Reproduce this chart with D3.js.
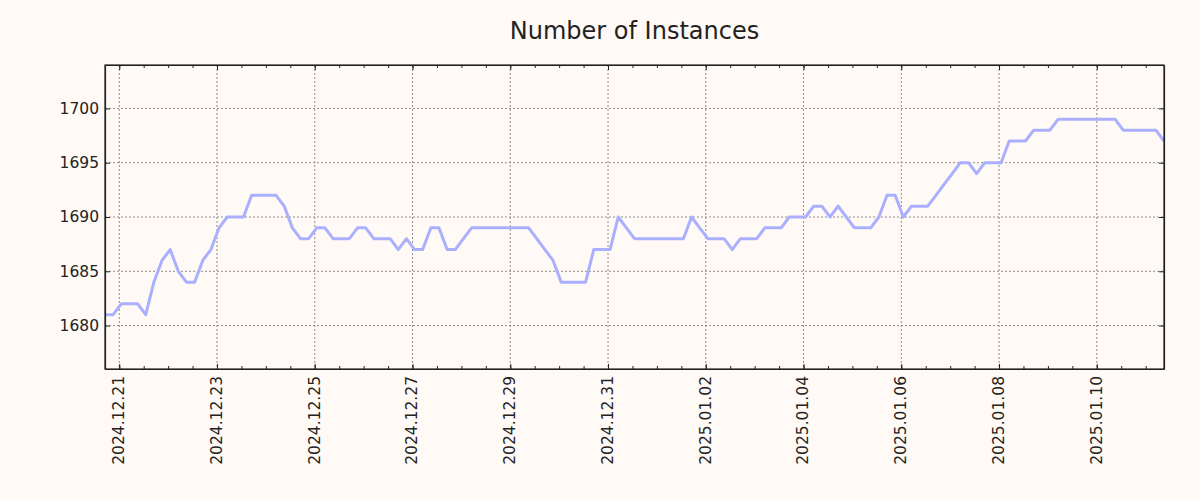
<!DOCTYPE html>
<html>
<head>
<meta charset="utf-8">
<script src="https://cdn.jsdelivr.net/npm/d3@7"></script>
<style>
  body { margin: 0; background: #fffaf5; }
  text { font-family: "DejaVu Sans", sans-serif; fill: #222; }
</style>
</head>
<body>
<script>
// Samples taken every 4 hours, starting at this time
var startTime = "2024-12-20T17:00";
var stepHours = 4;

// Instance counts
var counts = [
    1681, 1681, 1682, 1682, 1682, 1681, 1684, 1686, 1687, 1685,
    1684, 1684, 1686, 1687, 1689, 1690, 1690, 1690, 1692, 1692,
    1692, 1692, 1691, 1689, 1688, 1688, 1689, 1689, 1688, 1688,
    1688, 1689, 1689, 1688, 1688, 1688, 1687, 1688, 1687, 1687,
    1689, 1689, 1687, 1687, 1688, 1689, 1689, 1689, 1689, 1689,
    1689, 1689, 1689, 1688, 1687, 1686, 1684, 1684, 1684, 1684,
    1687, 1687, 1687, 1690, 1689, 1688, 1688, 1688, 1688, 1688,
    1688, 1688, 1690, 1689, 1688, 1688, 1688, 1687, 1688, 1688,
    1688, 1689, 1689, 1689, 1690, 1690, 1690, 1691, 1691, 1690,
    1691, 1690, 1689, 1689, 1689, 1690, 1692, 1692, 1690, 1691,
    1691, 1691, 1692, 1693, 1694, 1695, 1695, 1694, 1695, 1695,
    1695, 1697, 1697, 1697, 1698, 1698, 1698, 1699, 1699, 1699,
    1699, 1699, 1699, 1699, 1699, 1698, 1698, 1698, 1698, 1698,
    1697
];

var yTicks = [1680, 1685, 1690, 1695, 1700];
var yRange = [1676, 1704];
var title = "Number of Instances";

var margin = { top: 65, right: 36, bottom: 131, left: 105 },
    width = 1200 - margin.left - margin.right,
    height = 500 - margin.top - margin.bottom;

var start = d3.utcParse("%Y-%m-%dT%H:%M")(startTime);
var data = counts.map(function (v, i) {
    return { date: d3.utcHour.offset(start, i * stepHours), value: v };
});

var svg = d3.select("body").append("svg")
    .attr("width", 1200)
    .attr("height", 500);

svg.append("rect")
    .attr("width", 1200)
    .attr("height", 500)
    .attr("fill", "#fffaf5");

var g = svg.append("g")
    .attr("transform", "translate(" + margin.left + "," + margin.top + ")");

var x = d3.scaleUtc()
    .domain(d3.extent(data, function (d) { return d.date; }))
    .range([0, width]);

var y = d3.scaleLinear()
    .domain(yRange)
    .range([height, 0]);

// major ticks every second day, minor ticks every 12 hours
var majorX = d3.utcDay.range(d3.utcDay.ceil(x.domain()[0]), x.domain()[1])
    .filter(function (d, i) { return i % 2 === 0; });
var minorX = d3.utcHour.every(12).range(x.domain()[0], x.domain()[1]);

// dotted grid
g.append("g").selectAll("line")
    .data(majorX)
    .enter().append("line")
    .attr("x1", function (d) { return x(d); })
    .attr("x2", function (d) { return x(d); })
    .attr("y1", 0)
    .attr("y2", height)
    .attr("stroke", "#8c8c8c")
    .attr("stroke-width", 1)
    .attr("stroke-dasharray", "2,2");

g.append("g").selectAll("line")
    .data(yTicks)
    .enter().append("line")
    .attr("x1", 0)
    .attr("x2", width)
    .attr("y1", function (d) { return y(d); })
    .attr("y2", function (d) { return y(d); })
    .attr("stroke", "#8c8c8c")
    .attr("stroke-width", 1)
    .attr("stroke-dasharray", "2,2");

// the series
var line = d3.line()
    .x(function (d) { return x(d.date); })
    .y(function (d) { return y(d.value); });

g.append("path")
    .datum(data)
    .attr("fill", "none")
    .attr("stroke", "#aab0ff")
    .attr("stroke-width", 3)
    .attr("stroke-linejoin", "round")
    .attr("d", line);

// axes, ticks pointing inward on all four sides
var fmt = d3.utcFormat("%Y.%m.%d");

var xBottom = g.append("g")
    .attr("transform", "translate(0," + height + ")")
    .call(d3.axisBottom(x).tickValues(majorX).tickFormat(fmt).tickSizeInner(-5).tickSizeOuter(0));
xBottom.selectAll("text")
    .attr("transform", "rotate(-90)")
    .attr("text-anchor", "end")
    .attr("x", -7)
    .attr("y", -1)
    .attr("dy", "0.35em");

g.append("g")
    .attr("transform", "translate(0," + height + ")")
    .call(d3.axisBottom(x).tickValues(minorX).tickFormat("").tickSizeInner(-3).tickSizeOuter(0))
    .call(a => a.select(".domain").remove());

g.append("g")
    .call(d3.axisTop(x).tickValues(majorX).tickFormat("").tickSizeInner(-5).tickSizeOuter(0));
g.append("g")
    .call(d3.axisTop(x).tickValues(minorX).tickFormat("").tickSizeInner(-3).tickSizeOuter(0))
    .call(a => a.select(".domain").remove());

g.append("g")
    .call(d3.axisLeft(y).tickValues(yTicks).tickFormat(d3.format("d")).tickSizeInner(-5).tickSizeOuter(0).tickPadding(6));

g.append("g")
    .attr("transform", "translate(" + width + ",0)")
    .call(d3.axisRight(y).tickValues(yTicks).tickFormat("").tickSizeInner(-5).tickSizeOuter(0));

g.selectAll(".domain").attr("stroke", "#222").attr("stroke-width", 1.2);
g.selectAll(".tick line").attr("stroke", "#222");
g.selectAll(".tick text")
    .attr("fill", "#222")
    .attr("font-size", null)
    .style("font-size", "15.5px")
    .style("font-family", "DejaVu Sans");

// frame
g.append("rect")
    .attr("width", width)
    .attr("height", height)
    .attr("fill", "none")
    .attr("stroke", "#222")
    .attr("stroke-width", 1.2);

svg.append("text")
    .attr("x", margin.left + width / 2)
    .attr("y", 39)
    .attr("text-anchor", "middle")
    .attr("font-size", "24px")
    .text(title);
</script>
</body>
</html>
